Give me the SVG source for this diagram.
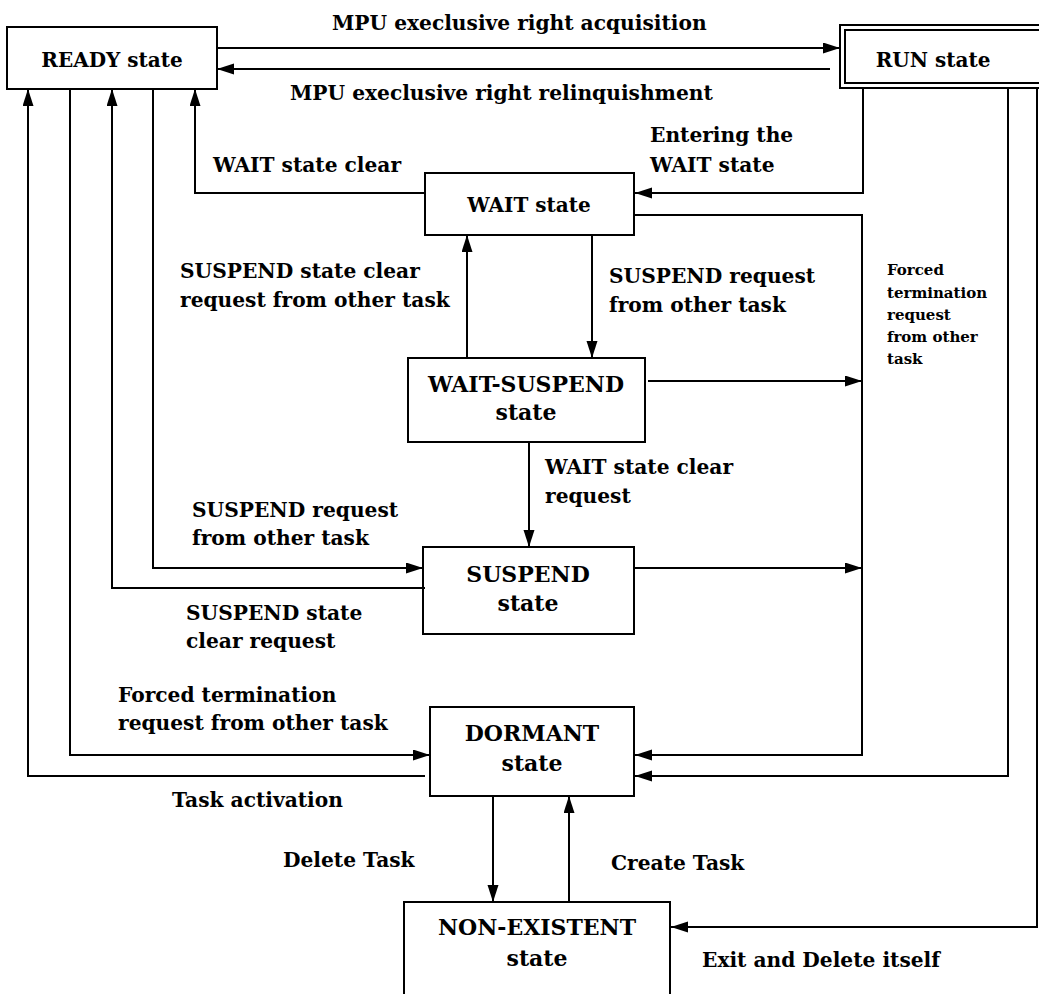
<svg xmlns="http://www.w3.org/2000/svg" width="1039" height="994" viewBox="0 0 1039 994">
  <style>
    .box { fill: #ffffff; stroke: #000000; stroke-width: 2; }
    .edge { fill: none; stroke: #000000; stroke-width: 2; }
    .arr { marker-end: url(#head); }
    text { font-family: "DejaVu Serif", "Liberation Serif", serif; font-weight: bold; fill: #000000; }
    .node { font-size: 20px; text-anchor: middle; }
    .node2 { font-size: 22px; text-anchor: middle; }
    .lbl { font-size: 20.2px; }
    .small { font-size: 15px; }
  </style>
  <defs>
    <marker id="head" markerUnits="userSpaceOnUse" markerWidth="18" markerHeight="12" refX="17" refY="5.5" orient="auto">
      <path d="M0,0 L17,5.5 L0,11 z" fill="#000000"/>
    </marker>
  </defs>

  <!-- state boxes -->
  <g id="ready">
    <rect class="box" x="7" y="27" width="210" height="62"/>
    <text class="node" x="112" y="67">READY state</text>
  </g>
  <g id="run">
    <rect class="box" x="840" y="25" width="215" height="63"/>
    <rect class="box" x="845" y="30" width="205" height="53"/>
    <text class="node" x="933" y="67">RUN state</text>
  </g>
  <g id="wait">
    <rect class="box" x="425" y="173" width="209" height="62"/>
    <text class="node" x="529" y="212">WAIT state</text>
  </g>
  <g id="wait-suspend">
    <rect class="box" x="408" y="358" width="237" height="84"/>
    <text class="node2" x="526" y="392">WAIT-SUSPEND</text>
    <text class="node2" x="526" y="420">state</text>
  </g>
  <g id="suspend">
    <rect class="box" x="423" y="547" width="211" height="87"/>
    <text class="node2" x="528" y="582">SUSPEND</text>
    <text class="node2" x="528" y="611">state</text>
  </g>
  <g id="dormant">
    <rect class="box" x="430" y="707" width="204" height="89"/>
    <text class="node2" x="532" y="741">DORMANT</text>
    <text class="node2" x="532" y="771">state</text>
  </g>
  <g id="non-existent">
    <rect class="box" x="404" y="902" width="266" height="120"/>
    <text class="node2" x="537" y="935">NON-EXISTENT</text>
    <text class="node2" x="537" y="966">state</text>
  </g>

  <!-- transitions -->
  <g id="connectors">
    <!-- READY <-> RUN -->
    <path class="edge arr" d="M217,48 H840"/>
    <path class="edge arr" d="M830,69 H217"/>
    <!-- RUN -> WAIT -->
    <path class="edge arr" d="M863,88 V193 H635"/>
    <!-- WAIT -> READY -->
    <path class="edge arr" d="M425,193 H195 V89"/>
    <!-- WAIT <-> WAIT-SUSPEND -->
    <path class="edge arr" d="M592,235 V358"/>
    <path class="edge arr" d="M467,358 V235"/>
    <!-- WAIT-SUSPEND -> SUSPEND -->
    <path class="edge arr" d="M529,442 V547"/>
    <!-- forced termination bus to DORMANT -->
    <path class="edge arr" d="M634,215 H862 V755 H635"/>
    <path class="edge arr" d="M648,381 H862"/>
    <path class="edge arr" d="M634,568 H862"/>
    <!-- READY <-> SUSPEND -->
    <path class="edge arr" d="M153,89 V568 H423"/>
    <path class="edge arr" d="M425,588 H112 V89"/>
    <!-- READY <-> DORMANT -->
    <path class="edge arr" d="M70,89 V755 H430"/>
    <path class="edge arr" d="M425,776 H28 V89"/>
    <!-- RUN -> DORMANT -->
    <path class="edge arr" d="M1008,88 V776 H635"/>
    <!-- DORMANT <-> NON-EXISTENT -->
    <path class="edge arr" d="M493,796 V902"/>
    <path class="edge arr" d="M569,902 V796"/>
    <!-- RUN -> NON-EXISTENT -->
    <path class="edge arr" d="M1037,88 V927 H671"/>
  </g>

  <!-- transition labels -->
  <g id="labels">
    <text class="lbl" x="332" y="30">MPU execlusive right acquisition</text>
    <text class="lbl" x="290" y="100">MPU execlusive right relinquishment</text>
    <text class="lbl" x="650" y="142">Entering the</text>
    <text class="lbl" x="650" y="172">WAIT state</text>
    <text class="lbl" x="213" y="172">WAIT state clear</text>
    <text class="lbl" x="180" y="278">SUSPEND state clear</text>
    <text class="lbl" x="180" y="307">request from other task</text>
    <text class="lbl" x="609" y="283">SUSPEND request</text>
    <text class="lbl" x="609" y="312">from other task</text>
    <text class="small" x="887" y="275">Forced</text>
    <text class="small" x="887" y="298">termination</text>
    <text class="small" x="887" y="320">request</text>
    <text class="small" x="887" y="342">from other</text>
    <text class="small" x="887" y="364">task</text>
    <text class="lbl" x="545" y="474">WAIT state clear</text>
    <text class="lbl" x="545" y="503">request</text>
    <text class="lbl" x="192" y="517">SUSPEND request</text>
    <text class="lbl" x="192" y="545">from other task</text>
    <text class="lbl" x="186" y="620">SUSPEND state</text>
    <text class="lbl" x="186" y="648">clear request</text>
    <text class="lbl" x="118" y="702">Forced termination</text>
    <text class="lbl" x="118" y="730">request from other task</text>
    <text class="lbl" x="172" y="807">Task activation</text>
    <text class="lbl" x="283" y="867">Delete Task</text>
    <text class="lbl" x="611" y="870">Create Task</text>
    <text class="lbl" x="702" y="967">Exit and Delete itself</text>
  </g>
</svg>
